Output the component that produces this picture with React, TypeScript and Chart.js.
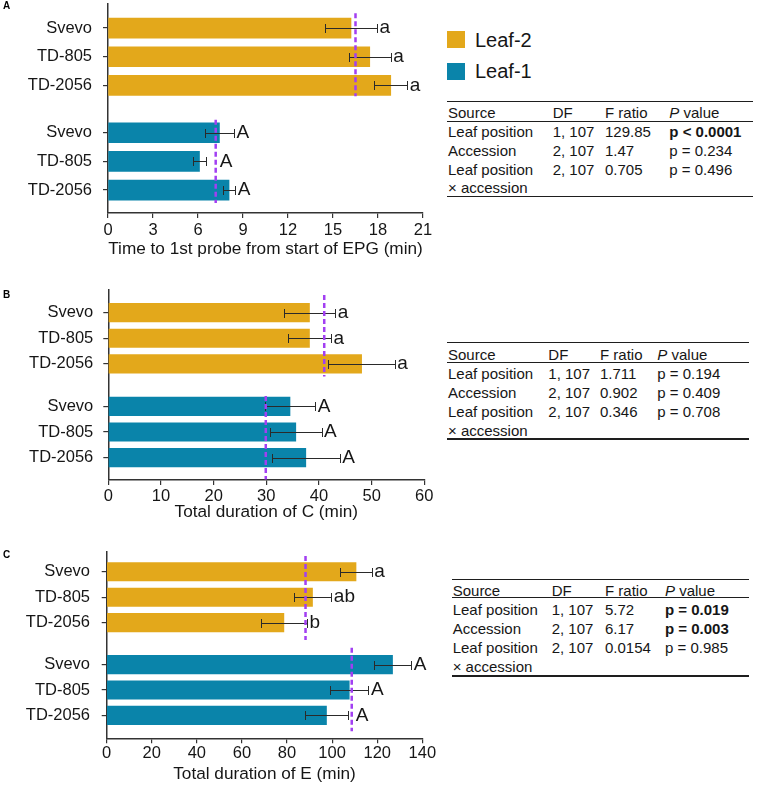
import React, { useEffect, useRef } from 'react';
import { Chart, registerables } from 'chart.js';

Chart.register(...registerables);

const FONT = '"Liberation Sans", Arial, Helvetica, sans-serif';
const GOLD = '#E3A81B';
const BLUE = '#0A84AA';
const MEAN_COLOR = '#A23FF2';
const INK = '#161616';

// ---------- data ----------
const accessions = ['Svevo', 'TD-805', 'TD-2056'];
const seriesNames = ['Leaf-2', 'Leaf-1'];

// Panel A: Time to 1st probe from start of EPG (min)
const leaf2A = [16.2, 17.45, 18.85];
const leaf2ErrA = [1.73, 1.4, 1.1];
const leaf1A = [7.43, 6.1, 8.07];
const leaf1ErrA = [0.97, 0.41, 0.41];
const meanA = [16.5, 7.18];
const lettersLeaf2A = ['a', 'a', 'a'];
const lettersLeaf1A = ['A', 'A', 'A'];
const ticksA = [0, 3, 6, 9, 12, 15, 18, 21];

// Panel B: Total duration of C (min)
const leaf2B = [38.2, 38.2, 48.1];
const leaf2ErrB = [4.9, 4.1, 6.3];
const leaf1B = [34.5, 35.6, 37.5];
const leaf1ErrB = [4.8, 4.9, 6.45];
const meanB = [41.0, 29.9];
const lettersLeaf2B = ['a', 'a', 'a'];
const lettersLeaf1B = ['A', 'A', 'A'];
const ticksB = [0, 10, 20, 30, 40, 50, 60];

// Panel C: Total duration of E (min)
const leaf2C = [110.6, 91.3, 78.6];
const leaf2ErrC = [7.0, 8.35, 10.2];
const leaf1C = [126.8, 107.6, 97.5];
const leaf1ErrC = [8.35, 8.5, 9.75];
const meanC = [88.2, 108.7];
const lettersLeaf2C = ['a', 'ab', 'b'];
const lettersLeaf1C = ['A', 'A', 'A'];
const ticksC = [0, 20, 40, 60, 80, 100, 120, 140];

// ANOVA tables
const tableHeader = ['Source', 'DF', 'F ratio', 'P value'];
const tableSources = ['Leaf position', 'Accession', 'Leaf position'];
const tableSourceCont = '× accession';
const dfValues = ['1, 107', '2, 107', '2, 107'];
const fA = ['129.85', '1.47', '0.705'];
const pA = ['p < 0.0001', 'p = 0.234', 'p = 0.496'];
const sigA = [true, false, false];
const fB = ['1.711', '0.902', '0.346'];
const pB = ['p = 0.194', 'p = 0.409', 'p = 0.708'];
const sigB = [false, false, false];
const fC = ['5.72', '6.17', '0.0154'];
const pC = ['p = 0.019', 'p = 0.003', 'p = 0.985'];
const sigC = [true, true, false];

// slot positions on the category (index) axis
const SLOTS2 = [0, 1, 2];
const SLOTS1 = [3.65, 4.65, 5.65];
const ALL_SLOTS = [...SLOTS2, ...SLOTS1];
const Y_LABELS = [...accessions, ...accessions];

type Panel = {
  key: string;
  top: number;
  height: number;
  chartLeft: number;
  chartRightPad: number;
  chartTop: number;
  xH: number;
  yMin: number;
  yMax: number;
  xMax: number;
  ticks: number[];
  title: string;
  titlePad: number;
  tickPad: number;
  yTickPad: number;
  barH: number;
  leaf2: number[];
  err2: number[];
  leaf1: number[];
  err1: number[];
  mean: number[];
  let2: string[];
  let1: string[];
  ext2: number[];
  ext1: number[];
};

const panels: Panel[] = [
  {
    key: 'A', top: 0, height: 262, chartLeft: 108, chartRightPad: 17, chartTop: 4, xH: 49,
    yMin: -0.84, yMax: 6.45, xMax: 21, ticks: ticksA,
    title: 'Time to 1st probe from start of EPG (min)', titlePad: 2.6, tickPad: 2.5, yTickPad: 11, barH: 20,
    leaf2: leaf2A, err2: leaf2ErrA, leaf1: leaf1A, err1: leaf1ErrA, mean: meanA,
    let2: lettersLeaf2A, let1: lettersLeaf1A, ext2: [-0.52, 0.38], ext1: [-0.45, 0.45],
  },
  {
    key: 'B', top: 262, height: 262, chartLeft: 108.3, chartRightPad: 15.7, chartTop: 28, xH: 44,
    yMin: -0.88, yMax: 6.52, xMax: 60, ticks: ticksB,
    title: 'Total duration of C (min)', titlePad: 1.1, tickPad: 1.5, yTickPad: 10, barH: 18.5,
    leaf2: leaf2B, err2: leaf2ErrB, leaf1: leaf1B, err1: leaf1ErrB, mean: meanB,
    let2: lettersLeaf2B, let1: lettersLeaf1B, ext2: [-0.69, 0.49], ext1: [-0.4, 0.85],
  },
  {
    key: 'C', top: 524, height: 263, chartLeft: 106.7, chartRightPad: 17.7, chartTop: 27.7, xH: 48.7,
    yMin: -0.79, yMax: 6.55, xMax: 140, ticks: ticksC,
    title: 'Total duration of E (min)', titlePad: 2.1, tickPad: 0, yTickPad: 11.7, barH: 18.5,
    leaf2: leaf2C, err2: leaf2ErrC, leaf1: leaf1C, err1: leaf1ErrC, mean: meanC,
    let2: lettersLeaf2C, let1: lettersLeaf1C, ext2: [-0.62, 0.68], ext1: [-0.66, 0.62],
  },
];

function BarPanel({ p }: { p: Panel }) {
  const ref = useRef<HTMLCanvasElement | null>(null);
  useEffect(() => {
    if (!ref.current) return;
    const overlay = {
      id: 'overlay' + p.key,
      afterDatasetsDraw(chart: any) {
        const { ctx } = chart;
        const x = chart.scales.x;
        const y = chart.scales.y;
        const groups = [
          { vals: p.leaf2, err: p.err2, letters: p.let2, slots: SLOTS2, mean: p.mean[0], ext: p.ext2 },
          { vals: p.leaf1, err: p.err1, letters: p.let1, slots: SLOTS1, mean: p.mean[1], ext: p.ext1 },
        ];
        ctx.save();
        // error bars
        groups.forEach((g) => {
          g.vals.forEach((v, i) => {
            const yc = Math.round(y.getPixelForValue(g.slots[i])) + 0.5;
            const x0 = Math.round(x.getPixelForValue(v - g.err[i])) + 0.5;
            const x1 = Math.round(x.getPixelForValue(v + g.err[i])) + 0.5;
            ctx.strokeStyle = '#2a2a2a';
            ctx.lineWidth = 1;
            ctx.beginPath();
            ctx.moveTo(x0, yc);
            ctx.lineTo(x1, yc);
            ctx.moveTo(x0, yc - 4.5);
            ctx.lineTo(x0, yc + 4.5);
            ctx.moveTo(x1, yc - 4.5);
            ctx.lineTo(x1, yc + 4.5);
            ctx.stroke();
          });
        });
        // mean lines
        groups.forEach((g) => {
          const xm = x.getPixelForValue(g.mean);
          ctx.setLineDash([5, 3]);
          ctx.lineWidth = 2.5;
          ctx.strokeStyle = MEAN_COLOR;
          ctx.beginPath();
          ctx.moveTo(xm, y.getPixelForValue(g.slots[0] + g.ext[0]));
          ctx.lineTo(xm, y.getPixelForValue(g.slots[2] + g.ext[1]));
          ctx.stroke();
          ctx.setLineDash([]);
        });
        // letters (placed after the error bar, and past the mean line if it is just beyond it)
        groups.forEach((g) => {
          const xm = x.getPixelForValue(g.mean);
          g.vals.forEach((v, i) => {
            const yc = y.getPixelForValue(g.slots[i]);
            const x1 = x.getPixelForValue(v + g.err[i]);
            const x0 = x.getPixelForValue(v - g.err[i]);
            const start = xm > x0 && xm < x1 + 14 ? Math.max(x1, xm + 1.5) : x1;
            ctx.fillStyle = INK;
            ctx.font = `19px ${FONT}`;
            ctx.textAlign = 'left';
            ctx.textBaseline = 'middle';
            ctx.fillText(g.letters[i], start + 2.5, yc);
          });
        });
        ctx.restore();
      },
    };

    const data = [
      ...p.leaf2.map((v, i) => ({ x: v, y: SLOTS2[i] })),
      ...p.leaf1.map((v, i) => ({ x: v, y: SLOTS1[i] })),
    ];
    const colors = [...p.leaf2.map(() => GOLD), ...p.leaf1.map(() => BLUE)];

    const chart = new Chart(ref.current, {
      type: 'bar',
      data: {
        datasets: [
          {
            label: seriesNames.join(' / '),
            data: data as any,
            backgroundColor: colors,
            borderWidth: 0,
            barThickness: p.barH,
          } as any,
        ],
      },
      options: {
        indexAxis: 'y',
        animation: false,
        responsive: false,
        maintainAspectRatio: false,
        events: [],
        layout: { padding: { top: p.chartTop, right: p.chartRightPad, left: 0, bottom: 0 } },
        plugins: { legend: { display: false }, tooltip: { enabled: false } },
        scales: {
          x: {
            type: 'linear',
            min: 0,
            max: p.xMax,
            afterBuildTicks: (s: any) => {
              s.ticks = p.ticks.map((v) => ({ value: v }));
            },
            afterFit: (s: any) => {
              s.height = p.xH;
              s.paddingLeft = 0;
              s.paddingRight = 0;
            },
            ticks: {
              autoSkip: false,
              maxRotation: 0,
              padding: p.tickPad,
              color: INK,
              font: { family: FONT, size: 16.5 },
            },
            grid: { drawOnChartArea: false, drawTicks: true, tickLength: 5, color: '#333', lineWidth: 1.2 },
            border: { display: true, color: '#333', width: 1.5 },
            title: {
              display: true,
              text: p.title,
              color: INK,
              font: { family: FONT, size: 17.2 },
              padding: { top: 0, bottom: p.titlePad },
            },
          },
          y: {
            type: 'linear',
            reverse: true,
            min: p.yMin,
            max: p.yMax,
            offset: false,
            afterBuildTicks: (s: any) => {
              s.ticks = ALL_SLOTS.map((v) => ({ value: v }));
            },
            afterFit: (s: any) => {
              s.width = p.chartLeft;
              s.paddingTop = 0;
              s.paddingBottom = 0;
            },
            ticks: {
              autoSkip: false,
              padding: p.yTickPad,
              color: INK,
              font: { family: FONT, size: 16.5 },
              callback: (value: any) => {
                const idx = ALL_SLOTS.findIndex((s) => Math.abs(s - Number(value)) < 1e-6);
                return idx >= 0 ? Y_LABELS[idx] : '';
              },
            },
            grid: { drawOnChartArea: false, drawTicks: true, tickLength: 5, color: '#333', lineWidth: 1.2, offset: false },
            border: { display: true, color: '#333', width: 1.5 },
          },
        },
      } as any,
      plugins: [overlay],
    });
    return () => chart.destroy();
  }, [p]);

  return (
    <canvas
      ref={ref}
      width={440}
      height={p.height}
      style={{ position: 'absolute', left: 0, top: p.top, width: 440, height: p.height, display: 'block' }}
    />
  );
}

type TableGeom = {
  left: number;
  right: number;
  topLine: number;
  headLine: number;
  bottomLine: number;
  headY: number;
  rowY: number[];
  cols: number[];
};

const tableGeoms: TableGeom[] = [
  { left: 447, right: 753, topLine: 101.7, headLine: 121.7, bottomLine: 196.5, headY: 113, rowY: [132, 151, 170, 188], cols: [448, 552.7, 605, 669.3] },
  { left: 447, right: 748.5, topLine: 342.7, headLine: 362.7, bottomLine: 439, headY: 355, rowY: [374, 393, 412, 430.5], cols: [448, 548.3, 600, 657.3] },
  { left: 452, right: 748.5, topLine: 579.3, headLine: 597.3, bottomLine: 676, headY: 590.7, rowY: [610, 629, 648, 666.5], cols: [452.7, 551.7, 605, 665] },
];

function StatsTable({ g, f, pv, sig }: { g: TableGeom; f: string[]; pv: string[]; sig: boolean[] }) {
  const line = (y: number, w: number) => (
    <div
      style={{ position: 'absolute', left: g.left, top: y - w / 2, width: g.right - g.left, height: w, background: '#1e1e1e' }}
    />
  );
  const cell = (x: number, y: number, content: React.ReactNode, bold = false) => (
    <div
      style={{
        position: 'absolute', left: x, top: y - 9, lineHeight: '18px', fontSize: 15,
        whiteSpace: 'nowrap', color: INK, fontWeight: bold ? 'bold' : 'normal',
      }}
    >
      {content}
    </div>
  );
  return (
    <>
      {line(g.topLine, 1.6)}
      {line(g.headLine, 1.3)}
      {line(g.bottomLine, 1.6)}
      {cell(g.cols[0], g.headY, tableHeader[0])}
      {cell(g.cols[1], g.headY, tableHeader[1])}
      {cell(g.cols[2], g.headY, tableHeader[2])}
      {cell(g.cols[3], g.headY, (<><i>{tableHeader[3].split(' ')[0]}</i>{' ' + tableHeader[3].split(' ').slice(1).join(' ')}</>))}
      {tableSources.map((s, i) => (
        <React.Fragment key={i}>
          {cell(g.cols[0], g.rowY[i], s)}
          {cell(g.cols[1], g.rowY[i], dfValues[i])}
          {cell(g.cols[2], g.rowY[i], f[i])}
          {cell(g.cols[3], g.rowY[i], pv[i], sig[i])}
        </React.Fragment>
      ))}
      {cell(g.cols[0], g.rowY[3], tableSourceCont)}
    </>
  );
}

export default function App() {
  const letterStyle = (top: number): React.CSSProperties => ({
    position: 'absolute', left: 3, top, fontSize: 10, lineHeight: '10px', fontWeight: 'bold', color: '#000',
  });
  return (
    <div
      style={{
        position: 'absolute', left: 0, top: 0, width: 758, height: 787, background: '#fff',
        fontFamily: FONT, overflow: 'hidden',
      }}
    >
      {panels.map((p) => (
        <BarPanel key={p.key} p={p} />
      ))}
      <div style={letterStyle(1)}>A</div>
      <div style={letterStyle(290)}>B</div>
      <div style={letterStyle(550)}>C</div>

      {/* legend */}
      <div style={{ position: 'absolute', left: 447, top: 31, width: 18, height: 17, background: GOLD }} />
      <div style={{ position: 'absolute', left: 475, top: 28, fontSize: 20, lineHeight: '24px', color: INK }}>{seriesNames[0]}</div>
      <div style={{ position: 'absolute', left: 447, top: 63, width: 18, height: 17, background: BLUE }} />
      <div style={{ position: 'absolute', left: 475, top: 59, fontSize: 20, lineHeight: '24px', color: INK }}>{seriesNames[1]}</div>

      <StatsTable g={tableGeoms[0]} f={fA} pv={pA} sig={sigA} />
      <StatsTable g={tableGeoms[1]} f={fB} pv={pB} sig={sigB} />
      <StatsTable g={tableGeoms[2]} f={fC} pv={pC} sig={sigC} />
    </div>
  );
}
